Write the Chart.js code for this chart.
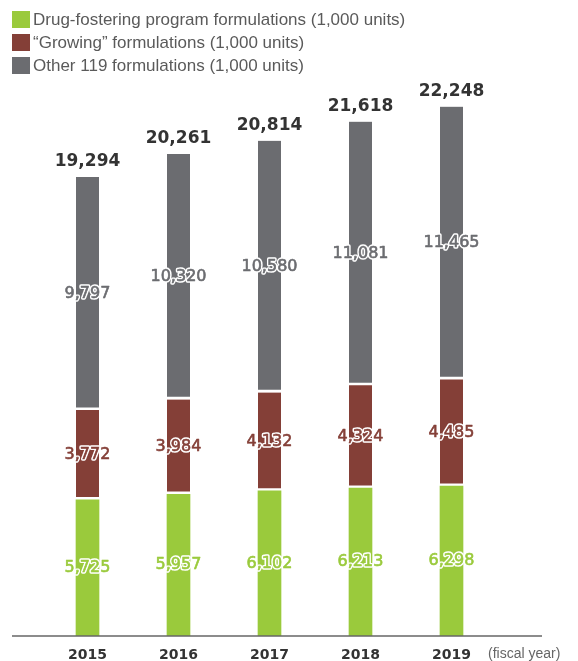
<!DOCTYPE html>
<html>
<head>
<meta charset="utf-8">
<script src="https://cdn.jsdelivr.net/npm/chart.js@4/dist/chart.umd.min.js"></script>
<style>
  html, body { margin: 0; padding: 0; background: #fff; }
  #wrap { position: relative; width: 578px; height: 661px; }
  #chart { position: absolute; left: 0; top: 0; }
  #legend { position: absolute; left: 12px; top: 8px; font: 17px "Liberation Sans", Arial, sans-serif; color: #5a5a5a; }
  #legend div { display: flex; align-items: center; height: 23px; }
  #legend span.sw { display: inline-block; width: 18px; height: 17px; margin-right: 3px; }
</style>
</head>
<body>
<div id="wrap">
  <canvas id="chart" width="578" height="661"></canvas>
  <div id="legend"></div>
</div>
<script>
const years = ['2015', '2016', '2017', '2018', '2019'];
const drugFostering = [5725, 5957, 6102, 6213, 6298];
const growing = [3772, 3984, 4132, 4324, 4485];
const other119 = [9797, 10320, 10580, 11081, 11465];
const seriesNames = [
  'Drug-fostering program formulations (1,000 units)',
  '\u201cGrowing\u201d formulations (1,000 units)',
  'Other 119 formulations (1,000 units)'
];
const colors = ['#9aca3c', '#843f37', '#6b6c70'];
const totals = years.map((_, i) => drugFostering[i] + growing[i] + other119[i]);

const fmt = v => v.toLocaleString('en-US');

// legend, one row per series
const legend = document.getElementById('legend');
seriesNames.forEach((name, i) => {
  const row = document.createElement('div');
  row.innerHTML = `<span class="sw" style="background:${colors[i]}"></span>${name}`;
  legend.appendChild(row);
});

// value labels inside segments, totals on top, years and baseline
const labelsPlugin = {
  id: 'labels',
  afterDatasetsDraw(chart) {
    const ctx = chart.ctx;
    const xs = chart.scales.x, ys = chart.scales.y;
    const base = ys.getPixelForValue(0);

    ctx.save();
    ctx.strokeStyle = '#666';
    ctx.lineWidth = 1.5;
    ctx.beginPath();
    ctx.moveTo(12, base);
    ctx.lineTo(542, base);
    ctx.stroke();

    ctx.textAlign = 'center';
    ctx.textBaseline = 'middle';
    ctx.lineJoin = 'round';
    ctx.font = '16px "DejaVu Sans"';
    chart.data.datasets.forEach((ds, di) => {
      chart.getDatasetMeta(di).data.forEach((bar, i) => {
        const p = bar.getProps(['x', 'y', 'base'], true);
        const cy = (p.y + p.base) / 2;
        const txt = fmt(ds.data[i]);
        ctx.strokeStyle = '#fff';
        ctx.lineWidth = 3.5;
        ctx.strokeText(txt, p.x, cy);
        ctx.fillStyle = colors[di];
        ctx.strokeStyle = colors[di];
        ctx.lineWidth = 0.6;
        ctx.strokeText(txt, p.x, cy);
        ctx.fillText(txt, p.x, cy);
      });
    });

    ctx.fillStyle = '#333';
    ctx.font = 'bold 17px "DejaVu Sans"';
    totals.forEach((t, i) => {
      ctx.fillText(fmt(t), xs.getPixelForValue(i), ys.getPixelForValue(t) - 15);
    });

    ctx.font = 'bold 14px "DejaVu Sans"';
    years.forEach((y, i) => {
      ctx.fillText(y, xs.getPixelForValue(i), base + 19);
    });

    ctx.fillStyle = '#666';
    ctx.font = '14px "Liberation Sans"';
    ctx.textAlign = 'left';
    ctx.fillText('(fiscal year)', 488, base + 18);
    ctx.restore();
  }
};

new Chart(document.getElementById('chart'), {
  type: 'bar',
  data: {
    labels: years,
    datasets: [
      { label: seriesNames[0], data: drugFostering, backgroundColor: colors[0], borderWidth: 0 },
      { label: seriesNames[1], data: growing, backgroundColor: colors[1],
        borderColor: '#fff', borderWidth: { top: 0, left: 0, right: 0, bottom: 3 }, borderSkipped: false },
      { label: seriesNames[2], data: other119, backgroundColor: colors[2],
        borderColor: '#fff', borderWidth: { top: 0, left: 0, right: 0, bottom: 3 }, borderSkipped: false }
    ]
  },
  options: {
    responsive: false,
    animation: false,
    layout: { padding: { left: 42, right: 81, top: 65, bottom: 25 } },
    datasets: { bar: { barThickness: 23 } },
    plugins: { legend: { display: false }, tooltip: { enabled: false } },
    scales: {
      x: { stacked: true, display: false },
      y: { stacked: true, display: false, min: 0, max: 24000 }
    }
  },
  plugins: [labelsPlugin]
});
</script>
</body>
</html>
